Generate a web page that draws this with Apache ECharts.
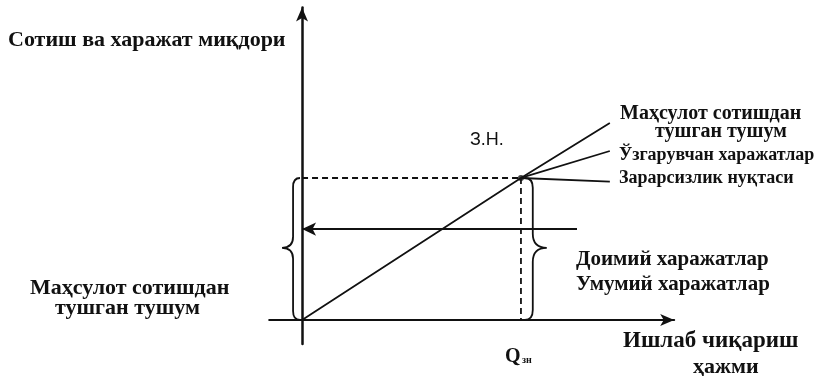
<!DOCTYPE html>
<html>
<head>
    <meta http-equiv="Content-Type" content="text/html; charset=utf-8" />
    <title>Зарарсизлик нуқтаси</title>
    <script src="https://cdn.jsdelivr.net/npm/echarts@6/dist/echarts.min.js"></script>
    <style>
        html, body { margin: 0; padding: 0; background: #fff; }
        #div1 { width: 816px; height: 376px; }
    </style>
</head>
<body>
    <div id="div1"></div>
    <script type="text/javascript">
        // break-even diagram, schematic units
        var revenue = [[0, 0], [5, 5], [7.03, 6.94]];       // Маҳсулот сотишдан тушган тушум
        var variableCost = [[5, 5], [7.03, 5.95]];           // Ўзгарувчан харажатлар
        var bepLine = [[5, 5], [7.03, 4.87]];                // Зарарсизлик нуқтаси
        var bep = [[5, 5]];
        var fixedArrow = [[6.28, 3.2], [0, 3.2]];
        var dashH = [[0, 5], [5, 5]];
        var dashV = [[5, 5], [5, 0]];
        // brace: base x, spine x, tip x, y from, y to, tip y
        var braces = [
            [-0.046, -0.205, -0.457, 5, 0, 2.54],
            [5.09, 5.27, 5.59, 5, 0, 2.54]
        ];

        var myChart = echarts.init(document.getElementById('div1'), null, { renderer: 'canvas' });

        var serif = '"Liberation Serif", "DejaVu Serif", serif';
        var sans = '"Liberation Sans", sans-serif';

        function txt(text, x, y, size, font, weight) {
            return {
                type: 'text',
                left: x, top: y,
                style: {
                    text: text, fill: '#111',
                    font: (weight || 'bold') + ' ' + size + 'px ' + font,
                    textVerticalAlign: 'middle'
                }
            };
        }

        function lineSeries(data, w, dashed) {
            return {
                type: 'line', data: data, symbol: 'none', silent: true,
                lineStyle: { color: '#111', width: w, type: dashed ? [6, 4] : 'solid' },
                z: 3
            };
        }

        var option = {
            animation: false,
            grid: { left: 269.2, top: 7.6, width: 405, height: 336.5 },
            xAxis: {
                type: 'value', min: -0.75, max: 8.5,
                axisLine: { onZero: true, symbol: ['none', 'arrow'], symbolSize: [9, 14], lineStyle: { color: '#111', width: 2 } },
                axisTick: { show: false }, axisLabel: { show: false }, splitLine: { show: false }
            },
            yAxis: {
                type: 'value', min: -0.85, max: 11,
                axisLine: { onZero: true, symbol: ['none', 'arrow'], symbolSize: [9, 14], lineStyle: { color: '#111', width: 2.5 } },
                axisTick: { show: false }, axisLabel: { show: false }, splitLine: { show: false }
            },
            series: [
                lineSeries(revenue, 1.8),
                lineSeries(variableCost, 1.8),
                lineSeries(bepLine, 1.8),
                lineSeries(dashH, 1.8, true),
                lineSeries(dashV, 1.8, true),
                {
                    type: 'line', data: fixedArrow, symbol: 'none', silent: true,
                    lineStyle: { color: '#111', width: 1.8 },
                    markLine: {
                        silent: true, symbol: ['none', 'arrow'], symbolSize: [10, 14],
                        label: { show: false },
                        lineStyle: { color: '#111', width: 1.8, type: 'solid' },
                        data: [[{ coord: fixedArrow[0] }, { coord: fixedArrow[1] }]]
                    }
                },
                {
                    type: 'scatter', data: bep, symbolSize: 6, silent: true,
                    itemStyle: { color: '#111' }, z: 4
                },
                {
                    type: 'custom', silent: true, data: braces,
                    renderItem: function(params, api) {
                        var b = api.coord([api.value(0), api.value(3)]);
                        var s = api.coord([api.value(1), api.value(3)]);
                        var t = api.coord([api.value(2), api.value(5)]);
                        var e = api.coord([api.value(0), api.value(4)]);
                        var bx = b[0], sx = s[0], tx = t[0];
                        var y0 = b[1], y1 = e[1], ym = t[1];
                        var r = Math.abs(sx - bx) + 2;
                        var r2 = Math.abs(tx - sx);
                        var p = 'M' + bx + ' ' + y0 +
                            ' Q' + sx + ' ' + y0 + ' ' + sx + ' ' + (y0 + r) +
                            ' L' + sx + ' ' + (ym - r2) +
                            ' Q' + sx + ' ' + ym + ' ' + tx + ' ' + ym +
                            ' Q' + sx + ' ' + ym + ' ' + sx + ' ' + (ym + r2) +
                            ' L' + sx + ' ' + (y1 - r) +
                            ' Q' + sx + ' ' + y1 + ' ' + bx + ' ' + y1;
                        return {
                            type: 'path',
                            shape: { pathData: p },
                            style: { fill: 'none', stroke: '#111', lineWidth: 1.8 }
                        };
                    },
                    z: 3
                }
            ],
            graphic: [
                txt('Сотиш ва харажат миқдори', 8, 29, 22, serif),
                txt('З.Н.', 470, 131, 18, sans, 'normal'),
                txt('Маҳсулот сотишдан', 620, 104, 20, serif),
                txt('тушган тушум', 655, 122, 20, serif),
                txt('Ўзгарувчан харажатлар', 619, 146, 18, serif),
                txt('Зарарсизлик нуқтаси', 619, 169, 18, serif),
                txt('Доимий харажатлар', 576, 249, 21, serif),
                txt('Умумий харажатлар', 576, 274, 21, serif),
                txt('Маҳсулот сотишдан', 30, 277, 22, serif),
                txt('тушган тушум', 55, 297, 22, serif),
                txt('Q', 505, 347, 20, serif),
                txt('зн', 522, 355, 10, serif),
                txt('Ишлаб чиқариш', 623, 330, 23, serif),
                txt('ҳажми', 693, 356, 22, serif)
            ]
        };
        myChart.setOption(option);
    </script>
</body>
</html>
